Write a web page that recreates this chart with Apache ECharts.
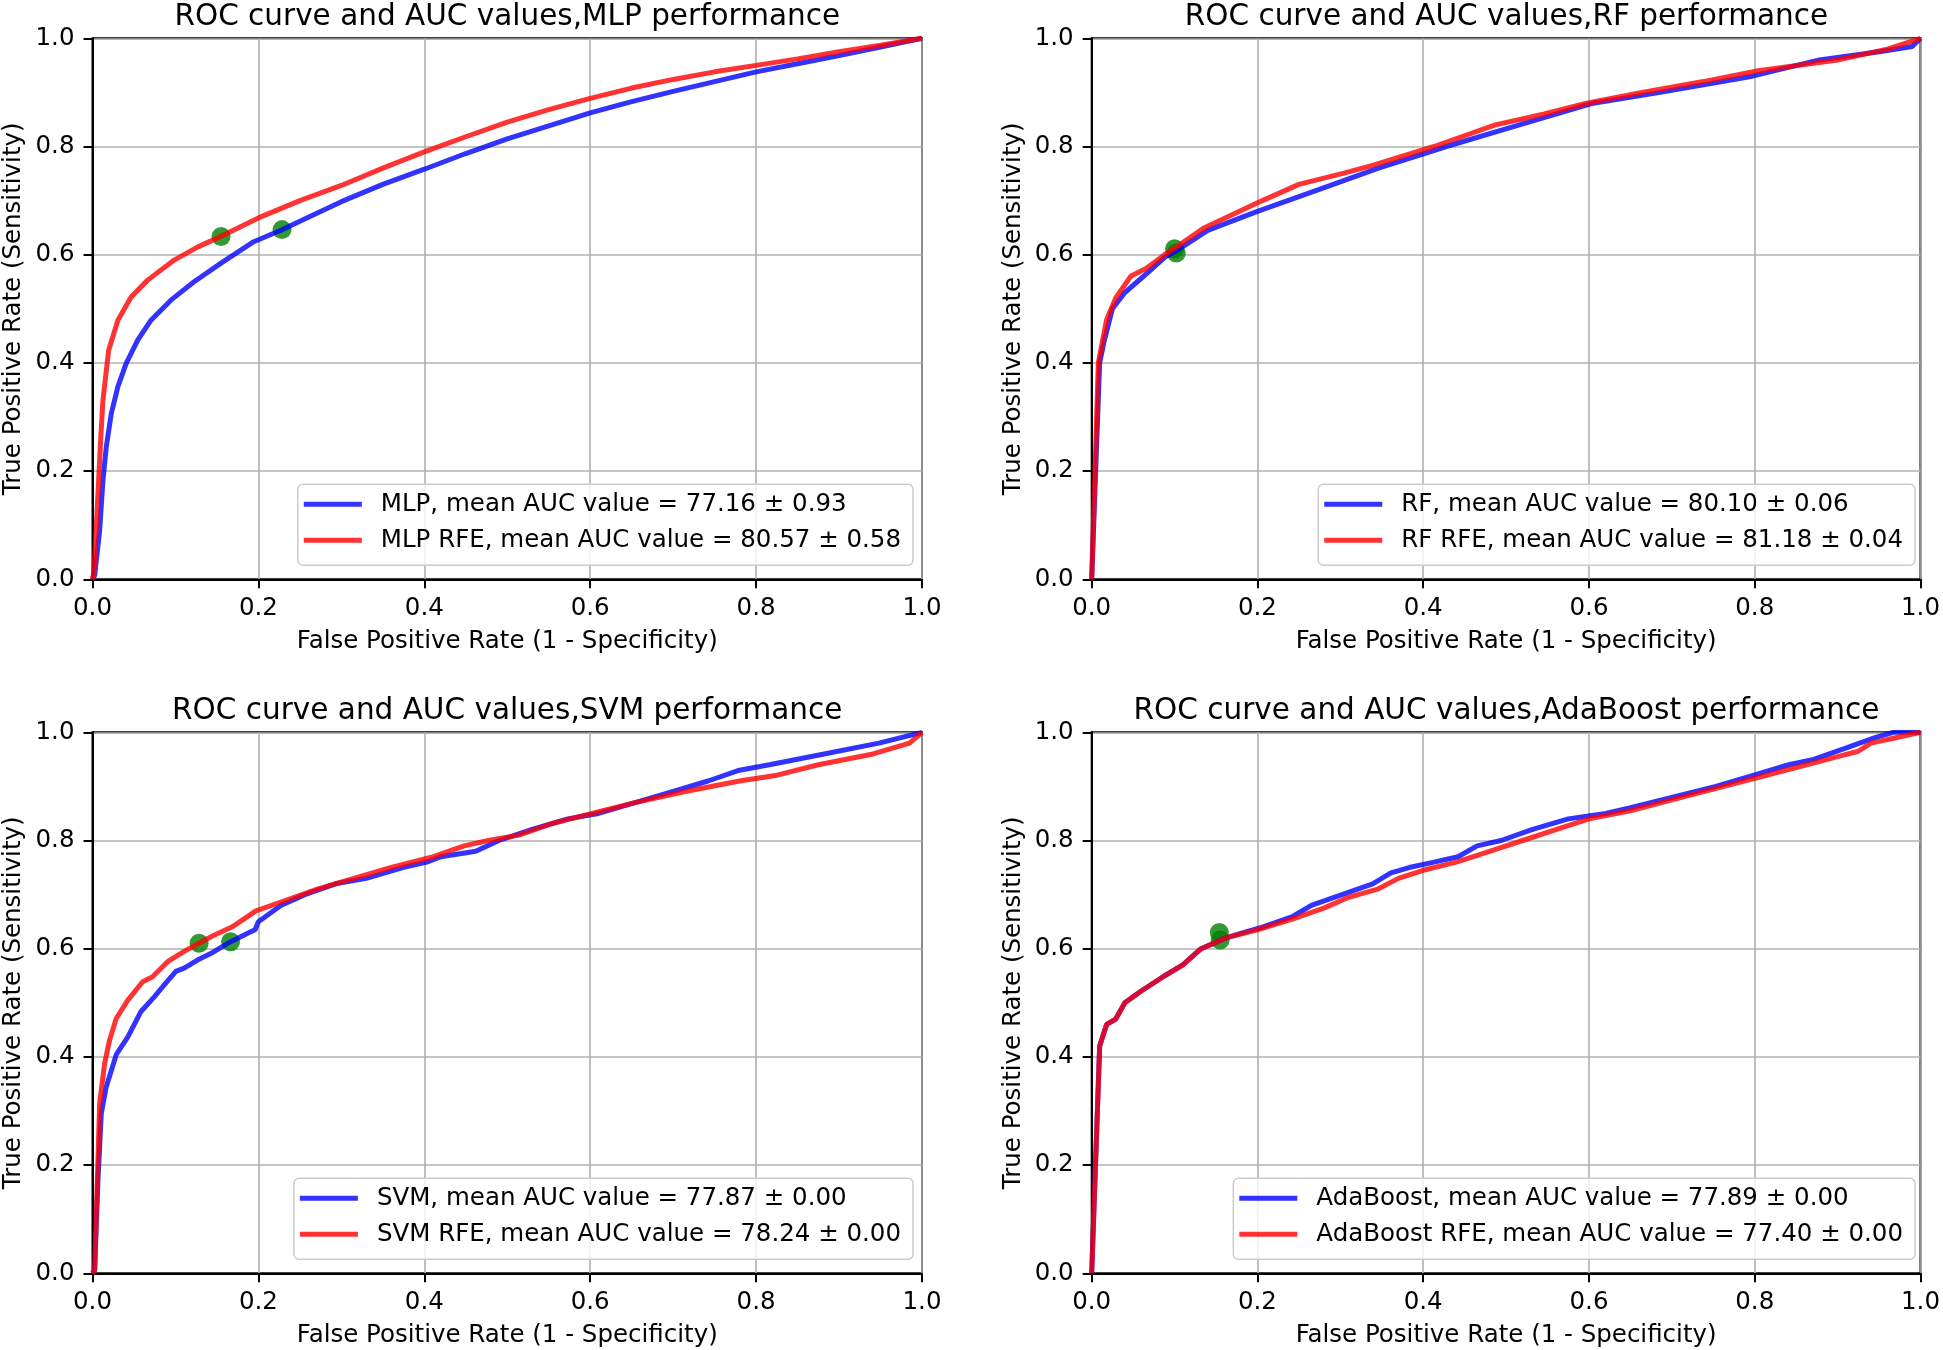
<!DOCTYPE html>
<html>
<head>
<meta charset="utf-8">
<script src="https://cdn.jsdelivr.net/npm/echarts@6/dist/echarts.min.js"></script>
<style>
html,body{margin:0;padding:0;background:#fff;}
#chart{width:1943px;height:1350px;}
</style>
</head>
<body>
<div id="chart"></div>
<script>
// ---- data (FPR, TPR) ----
const titles = [
  'ROC curve and AUC values,MLP performance',
  'ROC curve and AUC values,RF performance',
  'ROC curve and AUC values,SVM performance',
  'ROC curve and AUC values,AdaBoost performance'
];
const blueNames = [
  'MLP, mean AUC value = 77.16 ± 0.93',
  'RF, mean AUC value = 80.10 ± 0.06',
  'SVM, mean AUC value = 77.87 ± 0.00',
  'AdaBoost, mean AUC value = 77.89 ± 0.00'
];
const redNames = [
  'MLP RFE, mean AUC value = 80.57 ± 0.58',
  'RF RFE, mean AUC value = 81.18 ± 0.04',
  'SVM RFE, mean AUC value = 78.24 ± 0.00',
  'AdaBoost RFE, mean AUC value = 77.40 ± 0.00'
];
const axisTicks = [0, 0.2, 0.4, 0.6, 0.8, 1.0];
const xAxisName = 'False Positive Rate (1 - Specificity)';
const yAxisName = 'True Positive Rate (Sensitivity)';

const mlp = [[0,0],[0.0026,0.007],[0.0086,0.09],[0.0126,0.183],[0.0166,0.245],[0.0226,0.306],[0.0306,0.356],[0.0406,0.399],[0.0545,0.442],[0.0705,0.479],[0.0945,0.516],[0.1225,0.55],[0.1545,0.584],[0.1944,0.624],[0.2285,0.646],[0.25,0.662],[0.3,0.698],[0.35,0.73],[0.4,0.758],[0.45,0.787],[0.5,0.814],[0.55,0.838],[0.6,0.862],[0.65,0.883],[0.7,0.902],[0.75,0.92],[0.8,0.938],[0.85,0.953],[0.9,0.968],[0.95,0.984],[1,1]];
const mlpRfe = [[0,0],[0.0018,0.017],[0.0058,0.134],[0.0098,0.257],[0.0126,0.331],[0.0194,0.423],[0.0306,0.479],[0.0466,0.522],[0.0665,0.553],[0.0985,0.59],[0.1265,0.614],[0.155,0.634],[0.2,0.668],[0.25,0.7],[0.3,0.728],[0.35,0.76],[0.4,0.79],[0.45,0.818],[0.5,0.845],[0.55,0.868],[0.6,0.889],[0.65,0.908],[0.7,0.924],[0.75,0.938],[0.8,0.95],[0.85,0.962],[0.9,0.975],[0.95,0.987],[1,1]];
const rf = [[0,0],[0.0096,0.4],[0.015,0.44],[0.025,0.5],[0.04,0.53],[0.055,0.55],[0.07,0.57],[0.088,0.595],[0.102,0.607],[0.14,0.645],[0.2,0.68],[0.273,0.72],[0.346,0.76],[0.428,0.8],[0.516,0.84],[0.605,0.88],[0.686,0.9],[0.797,0.93],[0.878,0.96],[0.95,0.975],[0.99,0.985],[1,1]];
const rfRfe = [[0,0],[0.008,0.4],[0.018,0.48],[0.029,0.52],[0.047,0.56],[0.066,0.575],[0.088,0.6],[0.1,0.612],[0.136,0.65],[0.206,0.7],[0.25,0.73],[0.302,0.75],[0.339,0.765],[0.413,0.8],[0.487,0.84],[0.546,0.86],[0.597,0.88],[0.664,0.9],[0.738,0.92],[0.804,0.94],[0.9,0.96],[0.96,0.98],[1,1]];
const svm = [[0,0],[0.0026,0.006],[0.0066,0.173],[0.0106,0.296],[0.0166,0.345],[0.0286,0.404],[0.0426,0.437],[0.0585,0.484],[0.0745,0.511],[0.0865,0.533],[0.1005,0.558],[0.1105,0.564],[0.1265,0.579],[0.1425,0.591],[0.1665,0.613],[0.1865,0.628],[0.196,0.635],[0.2,0.65],[0.227,0.68],[0.256,0.7],[0.293,0.72],[0.33,0.73],[0.374,0.75],[0.403,0.76],[0.42,0.77],[0.462,0.78],[0.49,0.8],[0.529,0.82],[0.573,0.84],[0.61,0.85],[0.654,0.87],[0.698,0.89],[0.742,0.91],[0.78,0.93],[0.816,0.94],[0.882,0.96],[0.948,0.98],[1,1]];
const svmRfe = [[0,0],[0.0026,0.006],[0.0086,0.314],[0.0146,0.388],[0.0206,0.431],[0.0286,0.471],[0.0426,0.505],[0.0605,0.539],[0.0725,0.548],[0.0905,0.576],[0.1105,0.595],[0.1285,0.61],[0.1465,0.625],[0.168,0.64],[0.197,0.67],[0.234,0.69],[0.271,0.71],[0.315,0.73],[0.359,0.75],[0.411,0.77],[0.448,0.79],[0.477,0.8],[0.514,0.81],[0.551,0.83],[0.602,0.85],[0.654,0.87],[0.713,0.89],[0.78,0.91],[0.823,0.92],[0.875,0.94],[0.941,0.96],[0.985,0.98],[1,1]];
const ada = [[0,0],[0.0096,0.42],[0.018,0.46],[0.029,0.47],[0.04,0.5],[0.058,0.52],[0.088,0.55],[0.11,0.57],[0.132,0.6],[0.162,0.62],[0.184,0.63],[0.206,0.64],[0.243,0.66],[0.265,0.68],[0.302,0.7],[0.339,0.72],[0.361,0.74],[0.383,0.75],[0.413,0.76],[0.442,0.77],[0.465,0.79],[0.494,0.8],[0.531,0.82],[0.575,0.84],[0.62,0.85],[0.649,0.86],[0.701,0.88],[0.753,0.9],[0.797,0.92],[0.841,0.94],[0.871,0.95],[0.908,0.97],[0.945,0.99],[0.967,1.0],[1,1]];
const adaRfe = [[0,0],[0.0096,0.42],[0.018,0.46],[0.029,0.47],[0.04,0.5],[0.058,0.52],[0.088,0.55],[0.11,0.57],[0.132,0.6],[0.162,0.62],[0.2,0.635],[0.243,0.655],[0.28,0.675],[0.31,0.695],[0.345,0.71],[0.37,0.73],[0.4,0.745],[0.44,0.76],[0.48,0.78],[0.52,0.8],[0.56,0.82],[0.6,0.84],[0.65,0.855],[0.7,0.875],[0.75,0.895],[0.8,0.915],[0.85,0.935],[0.9,0.955],[0.925,0.965],[0.94,0.98],[0.97,0.99],[1,1]];

const mlpPoints = [[0.155,0.6335],[0.2285,0.6464]];
const rfPoints = [[0.1,0.611],[0.102,0.603]];
const svmPoints = [[0.1285,0.61],[0.1665,0.613]];
const adaPoints = [[0.154,0.63],[0.155,0.616]];

const blueData = [mlp, rf, svm, ada];
const redData = [mlpRfe, rfRfe, svmRfe, adaRfe];
const pointData = [mlpPoints, rfPoints, svmPoints, adaPoints];

// ---- layout ----
const FONT = 'DejaVu Sans';
const PW = 829.5, PH = 541;
const lefts = [92.5, 1091.7, 92.5, 1091.7];
const tops = [38.3, 38.3, 732.3, 732.3];
const legendRight = [1030, 28, 1030, 28];

const BLUE = 'rgba(0,0,255,0.8)';
const RED = 'rgba(255,0,0,0.8)';

const option = {
  backgroundColor: '#fff',
  animation: false,
  title: [], grid: [], xAxis: [], yAxis: [], legend: [], series: []
};

for (let i = 0; i < 4; i++) {
  option.title.push({
    text: titles[i],
    left: lefts[i] + PW / 2,
    top: tops[i] - 35.5,
    textAlign: 'center',
    padding: 0,
    textStyle: { fontFamily: FONT, fontSize: 29.5, fontWeight: 'normal', color: '#000' }
  });
  option.grid.push({
    left: lefts[i], top: tops[i], width: PW, height: PH,
    show: true, borderColor: '#000', borderWidth: 2, backgroundColor: 'transparent'
  });
  const common = {
    gridIndex: i, type: 'value', min: 0, max: 1, interval: 0.2,
    axisLine: { show: true, onZero: false, lineStyle: { color: '#000', width: 2 } },
    axisTick: { show: true, inside: false, length: 9, lineStyle: { color: '#000', width: 2 } },
    splitLine: { show: true, lineStyle: { color: '#b0b0b0', width: 1.6 } },
    axisLabel: {
      fontFamily: FONT, fontSize: 24.5, color: '#000',
      formatter: v => (axisTicks.find(t => Math.abs(t - v) < 1e-9) ?? v).toFixed(1)
    },
    nameLocation: 'middle',
    nameTextStyle: { fontFamily: FONT, fontSize: 24.5, color: '#000' }
  };
  option.xAxis.push(Object.assign({}, common, {
    name: xAxisName, nameGap: 50,
    axisLabel: Object.assign({}, common.axisLabel, { margin: 17 })
  }));
  option.yAxis.push(Object.assign({}, common, {
    name: yAxisName, nameGap: 66, nameRotate: 90,
    axisLabel: Object.assign({}, common.axisLabel, { margin: 18 })
  }));
  option.legend.push({
    orient: 'vertical',
    right: legendRight[i],
    top: tops[i] + PH - 95,
    data: [blueNames[i], redNames[i]],
    icon: 'rect',
    itemWidth: 58, itemHeight: 5,
    itemGap: 8,
    padding: [6, 12, 11, 6],
    backgroundColor: 'rgba(255,255,255,0.8)',
    borderColor: '#cccccc', borderWidth: 1.5, borderRadius: 5,
    textStyle: { fontFamily: FONT, fontSize: 24.5, color: '#000', lineHeight: 28, padding: [0, 0, 0, 14] }
  });
  option.series.push({
    type: 'scatter', xAxisIndex: i, yAxisIndex: i, data: pointData[i],
    symbolSize: 19, itemStyle: { color: '#008000' }, z: 1, silent: true
  });
  option.series.push({
    name: blueNames[i], type: 'line', xAxisIndex: i, yAxisIndex: i, data: blueData[i],
    showSymbol: false, smooth: false, z: 2,
    lineStyle: { color: BLUE, width: 5 }, itemStyle: { color: BLUE }
  });
  option.series.push({
    name: redNames[i], type: 'line', xAxisIndex: i, yAxisIndex: i, data: redData[i],
    showSymbol: false, smooth: false, z: 3,
    lineStyle: { color: RED, width: 5 }, itemStyle: { color: RED }
  });
}

const chart = echarts.init(document.getElementById('chart'), null, { renderer: 'canvas' });
chart.setOption(option);
</script>
</body>
</html>
